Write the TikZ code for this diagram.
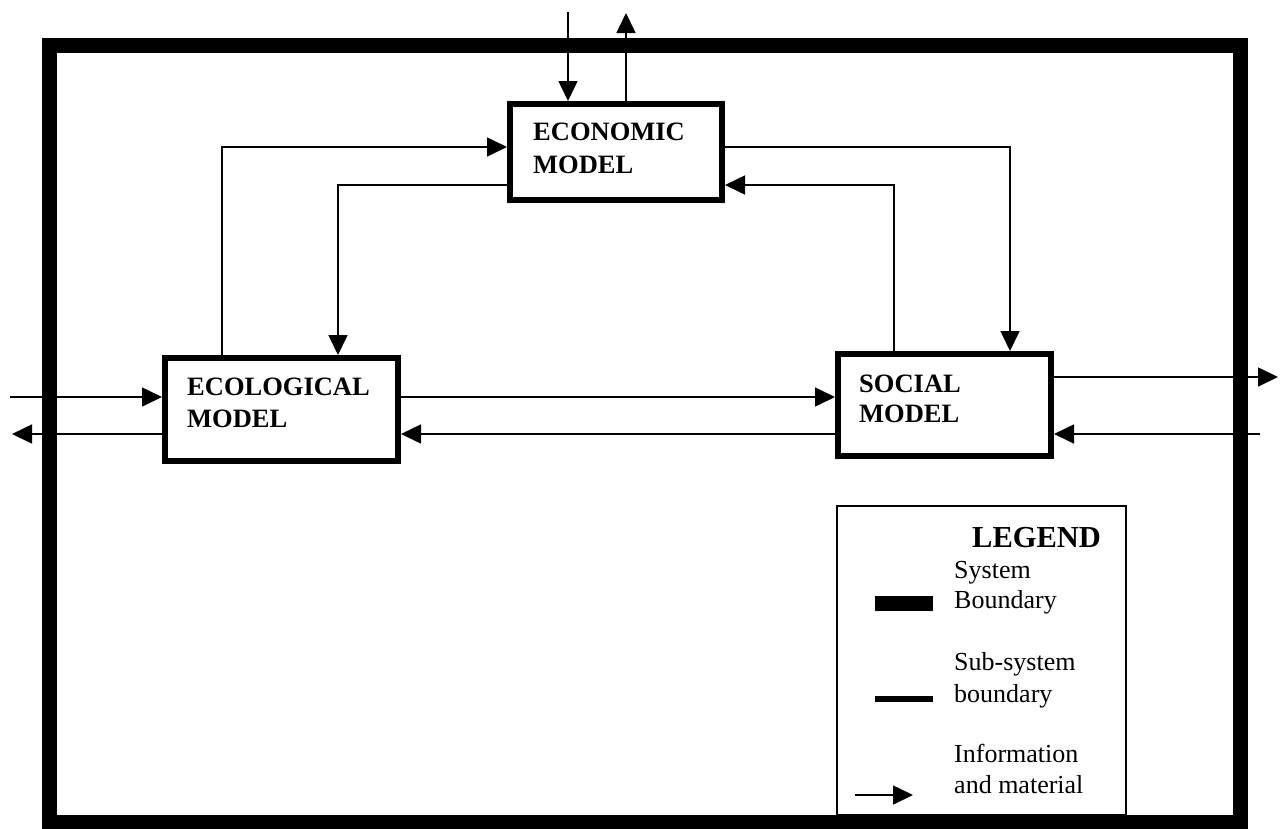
\documentclass[tikz,border=0pt]{standalone}
\usepackage{fontspec}
\setmainfont{Liberation Serif}
\usetikzlibrary{arrows.meta}

\tikzset{
  sysbound/.style={line width=15pt, line join=miter},
  model/.style={draw, line width=6pt, inner sep=0pt, line join=miter},
  modeltext/.style={anchor=base west, inner sep=0pt, font=\fontsize{26.5}{30}\selectfont\bfseries},
  legtext/.style={anchor=base west, inner sep=0pt, font=\fontsize{26}{30}\selectfont},
  flow/.style={line width=1.6pt, -{Triangle[length=20pt,width=19pt]}},
}

\begin{document}
\begin{tikzpicture}[x=1pt, y=-1pt]
\useasboundingbox (0,0) rectangle (1282,828);

% system boundary
\draw[sysbound] (49.5,45.5) rectangle (1240.5,822);

% sub-system models
\node[model, minimum width=212pt, minimum height=96pt] (econ) at (616,152) {};
\node[modeltext] (econa) at (533,140) {ECONOMIC};
\node[modeltext] (econb) at (533,173) {MODEL};

\node[model, minimum width=233pt, minimum height=103pt] (ecol) at (281.5,409.5) {};
\node[modeltext] (ecola) at (187,395) {ECOLOGICAL};
\node[modeltext] (ecolb) at (187,427) {MODEL};

\node[model, minimum width=213pt, minimum height=102pt] (soc) at (944.5,405) {};
\node[modeltext] (soca) at (859,392) {SOCIAL};
\node[modeltext] (socb) at (859,422) {MODEL};

% routing levels and columns
\coordinate (rtop) at (0,147);
\coordinate (rmid) at (0,185);
\coordinate (rin)  at (0,397);
\coordinate (rback) at (0,434);
\coordinate (rout) at (0,377);
\coordinate (ca) at (222,0);
\coordinate (cb) at (338,0);
\coordinate (cc) at (894,0);
\coordinate (cd) at (1010,0);

% free ends outside the system
\coordinate (econin)  at (568,12);
\coordinate (econout) at (626,13);
\coordinate (westin)  at (10,397);
\coordinate (westout) at (12,434);
\coordinate (eastout) at (1278,377);
\coordinate (eastin)  at (1260,434);

% flows of information and material
\draw[flow] (econin) -- (econin |- econ.north);
\draw[flow] (econout |- econ.north) -- (econout);

\draw[flow] (ca |- ecol.north) |- (econ.west |- rtop);
\draw[flow] (econ.west |- rmid) -| (cb |- ecol.north);
\draw[flow] (econ.east |- rtop) -| (cd |- soc.north);
\draw[flow] (cc |- soc.north) |- (econ.east |- rmid);

\draw[flow] (westin) -- (ecol.west |- rin);
\draw[flow] (ecol.west |- rback) -- (westout);
\draw[flow] (ecol.east |- rin) -- (soc.west |- rin);
\draw[flow] (soc.west |- rback) -- (ecol.east |- rback);
\draw[flow] (soc.east |- rout) -- (eastout);
\draw[flow] (eastin) -- (soc.east |- rback);

% legend
\node[draw, line width=1.5pt, inner sep=0pt, minimum width=289pt, minimum height=309pt] (legend) at (981.5,660.5) {};
\node[anchor=base west, inner sep=0pt, font=\fontsize{30.5}{34}\selectfont\bfseries] (legtitle) at (972,547) {LEGEND};

\fill (875,596) rectangle (933,611);
\node[legtext] (lsa) at (954,578) {System};
\node[legtext] (lsb) at (954,608) {Boundary};

\fill (875,696) rectangle (933,702);
\node[legtext] (lba) at (954,670) {Sub-system};
\node[legtext] (lbb) at (954,702) {boundary};

\coordinate (legfrom) at (855,795);
\coordinate (legto) at (913,795);
\draw[flow] (legfrom) -- (legto);
\node[legtext] (lia) at (954,762) {Information};
\node[legtext] (lib) at (954,793) {and material};
\end{tikzpicture}
\end{document}
